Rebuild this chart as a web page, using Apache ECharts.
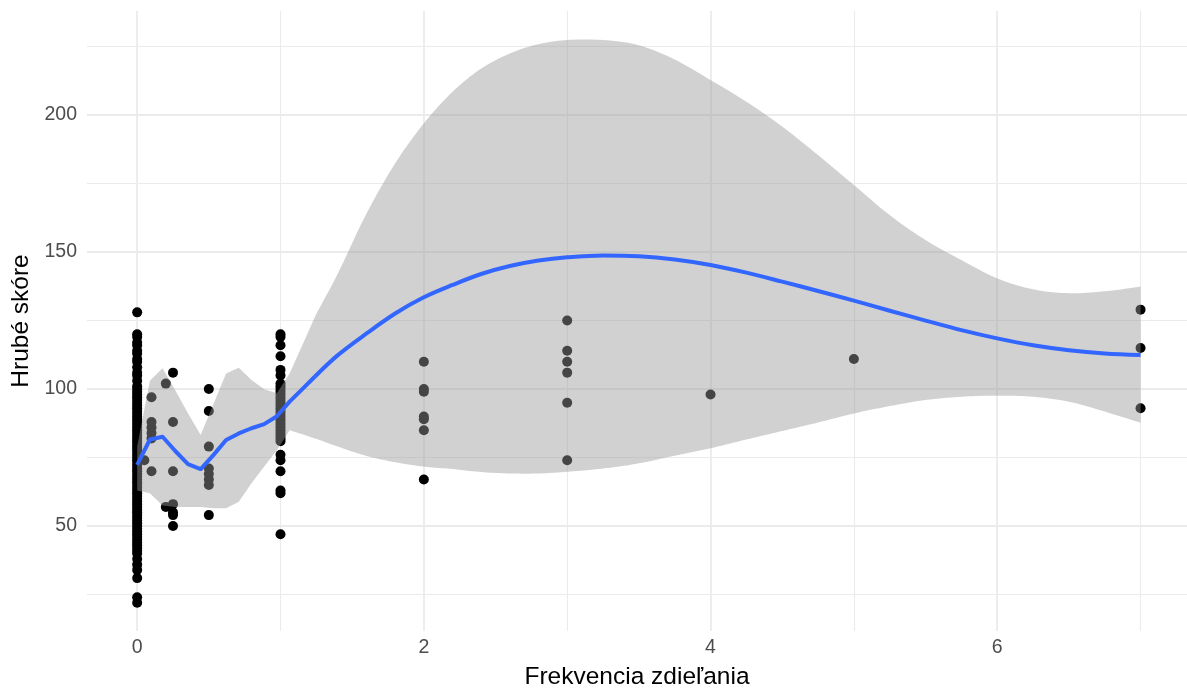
<!DOCTYPE html>
<html>
<head>
<meta charset="utf-8">
<script src="https://cdn.jsdelivr.net/npm/echarts@6/dist/echarts.min.js"></script>
<style>
  html, body { margin: 0; padding: 0; background: #ffffff; }
  #chart { width: 1187px; height: 691px; }
</style>
</head>
<body>
<div id="chart"></div>
<script>
// Observed sharing frequencies and the raw scores recorded at each of them
const sharingLevels = [0, 0.05, 0.1, 0.2, 0.25, 0.5, 1, 2, 3, 4, 5, 7];
const scoresByLevel = [
  [128, 120, 119, 117, 116, 114, 113, 111, 110, 108, 106, 105, 103, 101, 100, 99, 98, 97, 96, 95,
   94, 93, 92, 91, 90, 89, 88, 87, 86, 85, 84, 83, 82, 81, 80, 79, 78, 77, 76, 75, 74, 73, 72, 71,
   70, 69, 68, 67, 66, 65, 64, 63, 62, 61, 60, 59, 58, 57, 56, 55, 54, 53, 52, 51, 50, 49, 48, 47,
   46, 45, 44, 43, 42, 41, 40, 38, 36, 34, 31, 24, 22],
  [74],
  [97, 88, 86, 84, 82, 70],
  [102, 57],
  [106, 88, 70, 58, 55, 54, 50],
  [100, 92, 79, 71, 69, 67, 65, 54],
  [120, 119, 116, 112, 107, 105, 102, 101, 100, 99, 98, 97, 96, 95, 94, 93, 92, 91, 90, 89, 88,
   87, 86, 85, 84, 83, 82, 81, 76, 74, 70, 63, 62, 47],
  [110, 100, 99, 90, 89, 85, 67],
  [125, 114, 110, 106, 95, 74],
  [98],
  [111],
  [129, 115, 93]
];

// Local regression curve with its confidence band
const smoothX = [0, 0.0886, 0.1772, 0.2658, 0.3544, 0.4430, 0.5316, 0.6203, 0.7089, 0.7975,
  0.8861, 0.9747, 1.0633, 1.1519, 1.2405, 1.4, 1.6, 1.8, 2.0, 2.2, 2.4, 2.6, 2.8, 3.0, 3.25,
  3.5, 3.75, 4.0, 4.25, 4.5, 4.75, 5.0, 5.25, 5.5, 5.75, 6.0, 6.25, 6.5, 6.75, 7.0];
const smoothFit = [72.3, 81.6, 82.6, 77.4, 72.6, 70.8, 75.9, 81.4, 83.8, 85.7,
  87.2, 90.1, 95.4, 100, 104.6, 112.4, 120.3, 127.6, 133.5, 138, 142, 144.9, 146.9, 148.1, 148.8,
  148.5, 147.3, 145.3, 142.5, 139.2, 135.8, 132.3, 128.6, 125, 121.5, 118.5, 116, 114.2, 113, 112.4];
const smoothLower = [63, 62, 57.5, 57, 57, 57, 56.5, 56.5, 58.9, 65.6,
  71.7, 77.7, 85, 83.5, 82, 79, 75.6, 73.3, 71.7, 70.8, 69.7, 69.2, 69.2, 69.8, 71,
  72.9, 75.7, 78.4, 81.6, 84.7, 87.8, 91.1, 93.8, 96, 97.2, 97.6, 97.2, 95.4, 91.8, 87.7];
const smoothUpper = [79, 103, 107.6, 99.6, 91.2, 83.2, 94.5, 105.7, 107.8, 103.3,
  99.9, 98.5, 105.7, 116, 126.4, 142.2, 164.1, 182.4, 197, 208.5, 217, 222.5, 225.9, 227.4, 227.4,
  225.5, 220.3, 212.8, 204.9, 195.8, 185.4, 174.5, 163.5, 154.4, 147.1, 140.4, 136.4, 135, 135.7, 137.4];
// the curve is drawn with straight joins up to this x, smoothed beyond it
const kinkedUntil = 1.25;

// Axis ticks
const xMajorTicks = [0, 2, 4, 6];
const xMinorTicks = [1, 3, 5, 7];
const yMajorTicks = [50, 100, 150, 200];
const yMinorTicks = [25, 75, 125, 175, 225];

const FONT = '"Liberation Sans", Arial, Helvetica, sans-serif';
const GRID_COLOR = '#EBEBEB';
const BAND_FILL = 'rgba(153,153,153,0.45)';
const FIT_COLOR = '#3366FF';

const points = [];
sharingLevels.forEach(function (lvl, i) {
  scoresByLevel[i].forEach(function (s) { points.push([lvl, s]); });
});

const nearLine = [], farLine = [];
smoothX.forEach(function (x, i) {
  if (x <= kinkedUntil) nearLine.push([x, smoothFit[i]]);
  if (x >= kinkedUntil - 0.02) farLine.push([x, smoothFit[i]]);
});

const bandRows = smoothX.map(function (x, i) { return [x, smoothLower[i], smoothUpper[i]]; });
const firstSmooth = smoothX.findIndex(function (x) { return x >= kinkedUntil - 0.02; });

// Catmull-Rom point between p1 and p2 (screen space)
function catmull(p0, p1, p2, p3, t) {
  const t2 = t * t, t3 = t2 * t;
  return [0, 1].map(function (k) {
    return 0.5 * (2 * p1[k] + (-p0[k] + p2[k]) * t +
      (2 * p0[k] - 5 * p1[k] + 4 * p2[k] - p3[k]) * t2 +
      (-p0[k] + 3 * p1[k] - 3 * p2[k] + p3[k]) * t3);
  });
}

// walk an edge of the band; segments flagged smooth are curved, the rest straight
function traceEdge(P, isSmooth, out) {
  for (let i = 0; i < P.length - 1; i++) {
    if (isSmooth(i)) {
      const p0 = P[Math.max(i - 1, 0)], p3 = P[Math.min(i + 2, P.length - 1)];
      for (let s = 1; s <= 10; s++) out.push(catmull(p0, P[i], P[i + 1], p3, s / 10));
    } else {
      out.push(P[i + 1]);
    }
  }
}

function gridLines(values, axis, width) {
  return values.map(function (v) {
    const item = { lineStyle: { color: GRID_COLOR, width: width, type: 'solid' } };
    item[axis] = v;
    return item;
  });
}

const chart = echarts.init(document.getElementById('chart'), null, { renderer: 'canvas' });

chart.setOption({
  animation: false,
  backgroundColor: '#ffffff',
  grid: {
    left: 87, top: 11, right: 0, height: 620,
    containLabel: false,
    outerBoundsMode: 'none'
  },
  xAxis: {
    type: 'value',
    min: -0.35,
    max: 7.324,
    axisLine: { show: false },
    axisTick: { show: false },
    splitLine: { show: false },
    axisLabel: {
      customValues: xMajorTicks,
      color: '#4D4D4D',
      fontSize: 19.5,
      fontFamily: FONT,
      margin: 7
    },
    name: 'Frekvencia zdieľania',
    nameLocation: 'middle',
    nameGap: 34,
    nameTextStyle: { color: '#000000', fontSize: 24.5, fontFamily: FONT }
  },
  yAxis: {
    type: 'value',
    min: 11.7,
    max: 238,
    axisLine: { show: false },
    axisTick: { show: false },
    splitLine: { show: false },
    axisLabel: {
      customValues: yMajorTicks,
      color: '#4D4D4D',
      fontSize: 19.5,
      fontFamily: FONT,
      margin: 10
    },
    name: 'Hrubé skóre',
    nameLocation: 'middle',
    nameGap: 50,
    nameTextStyle: { color: '#000000', fontSize: 24.5, fontFamily: FONT }
  },
  series: [
    {
      name: 'scores',
      type: 'scatter',
      z: 2,
      symbol: 'circle',
      symbolSize: 10,
      itemStyle: { color: '#000000', opacity: 1 },
      silent: true,
      data: points,
      markLine: {
        silent: true,
        z: 1,
        symbol: ['none', 'none'],
        label: { show: false },
        emphasis: { disabled: true },
        animation: false,
        data: [].concat(
          gridLines(yMinorTicks, 'yAxis', 1.1),
          gridLines(yMajorTicks, 'yAxis', 1.8),
          gridLines(xMinorTicks, 'xAxis', 1.1),
          gridLines(xMajorTicks, 'xAxis', 1.8)
        )
      }
    },
    {
      name: 'band',
      type: 'custom',
      z: 3,
      silent: true,
      data: bandRows,
      encode: { x: 0, y: [1, 2] },
      renderItem: function (params, api) {
        if (params.dataIndex !== 0) return null;
        const n = bandRows.length;
        const upper = bandRows.map(function (r) { return api.coord([r[0], r[2]]); });
        const lowerRev = bandRows.map(function (r) { return api.coord([r[0], r[1]]); }).reverse();
        const outline = [upper[0]];
        traceEdge(upper, function (i) { return i >= firstSmooth; }, outline);
        outline.push(lowerRev[0]);
        traceEdge(lowerRev, function (j) { return (n - 2 - j) >= firstSmooth; }, outline);
        return {
          type: 'polygon',
          shape: { points: outline },
          style: { fill: BAND_FILL, stroke: null }
        };
      }
    },
    {
      name: 'fit-near',
      type: 'line',
      z: 4,
      silent: true,
      smooth: false,
      showSymbol: false,
      lineStyle: { color: FIT_COLOR, width: 4, cap: 'butt', join: 'round' },
      data: nearLine
    },
    {
      name: 'fit-far',
      type: 'line',
      z: 4,
      silent: true,
      smooth: 0.35,
      showSymbol: false,
      lineStyle: { color: FIT_COLOR, width: 4, cap: 'butt', join: 'round' },
      data: farLine
    }
  ]
});
</script>
</body>
</html>
